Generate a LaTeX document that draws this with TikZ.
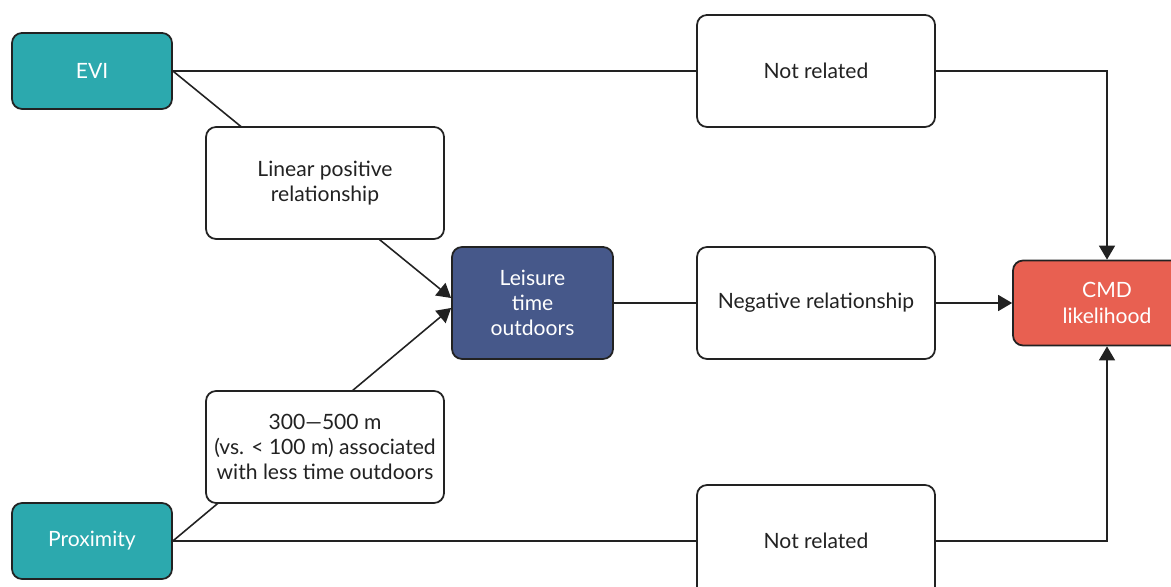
\documentclass[tikz,border=0pt]{standalone}
\usepackage{fontspec}
\setmainfont{Lato}
\usetikzlibrary{arrows.meta,backgrounds}

\definecolor{evicol}{HTML}{2CA9AE}
\definecolor{leiscol}{HTML}{46588A}
\definecolor{cmdcol}{HTML}{E86051}
\definecolor{linecol}{HTML}{222222}

\tikzset{
  box/.style={draw=linecol, line width=1pt, rounded corners=0.2cm, align=center,
    inner sep=2pt, text=linecol, font=\fontsize{12}{14.4}\selectfont},
  smallbox/.style={box, minimum width=3.2cm, minimum height=1.52cm, fill=evicol, text=white},
  relbox/.style={box, minimum width=4.76cm, minimum height=2.24cm, fill=white},
  link/.style={draw=linecol, line width=0.9pt},
  arr/.style={link, -{Triangle[length=0.28cm, width=0.32cm]}}
}

\begin{document}
\begin{tikzpicture}
    \useasboundingbox (0,0) rectangle (23.42,11.72);

    % sources
    \node [smallbox] (evi) at (1.84, 10.30) {EVI};
    \node [smallbox] (prox) at (1.84, 0.90) {Proximity};

    % relations
    \node [relbox] (linpos) at (6.50, 8.06) {Linear positive\\relationship};
    \node [relbox] (dist) at (6.50, 2.78) {300—500 m\\(vs. < 100 m) associated\\with less time outdoors};
    \node [relbox] (notrelA) at (16.32, 10.30) {Not related};
    \node [relbox] (negrel) at (16.32, 5.66) {Negative relationship};
    \node [relbox] (notrelB) at (16.32, 0.90) {Not related};

    % mediator and outcome
    \node [box, fill=leiscol, text=white, minimum width=3.22cm, minimum height=2.24cm] (leis) at (10.65, 5.66) {Leisure\\time\\outdoors};
    \node [box, fill=cmdcol, text=white, minimum width=3.76cm, minimum height=1.70cm] (cmd) at (22.14, 5.66) {CMD\\likelihood};

    \begin{scope}[on background layer]
      \draw [arr] (evi.east) -- ([yshift=0.1cm]leis.west);
      \draw [arr] (prox.east) -- ([yshift=-0.1cm]leis.west);
    \end{scope}

    \draw [link] (evi.east) -- (notrelA.west);
    \draw [arr] (notrelA.east) -| (cmd.north);
    \draw [link] (leis.east) -- (negrel.west);
    \draw [arr] (negrel.east) -- (cmd.west);
    \draw [link] (prox.east) -- (notrelB.west);
    \draw [arr] (notrelB.east) -| (cmd.south);
  \end{tikzpicture}
\end{document}
